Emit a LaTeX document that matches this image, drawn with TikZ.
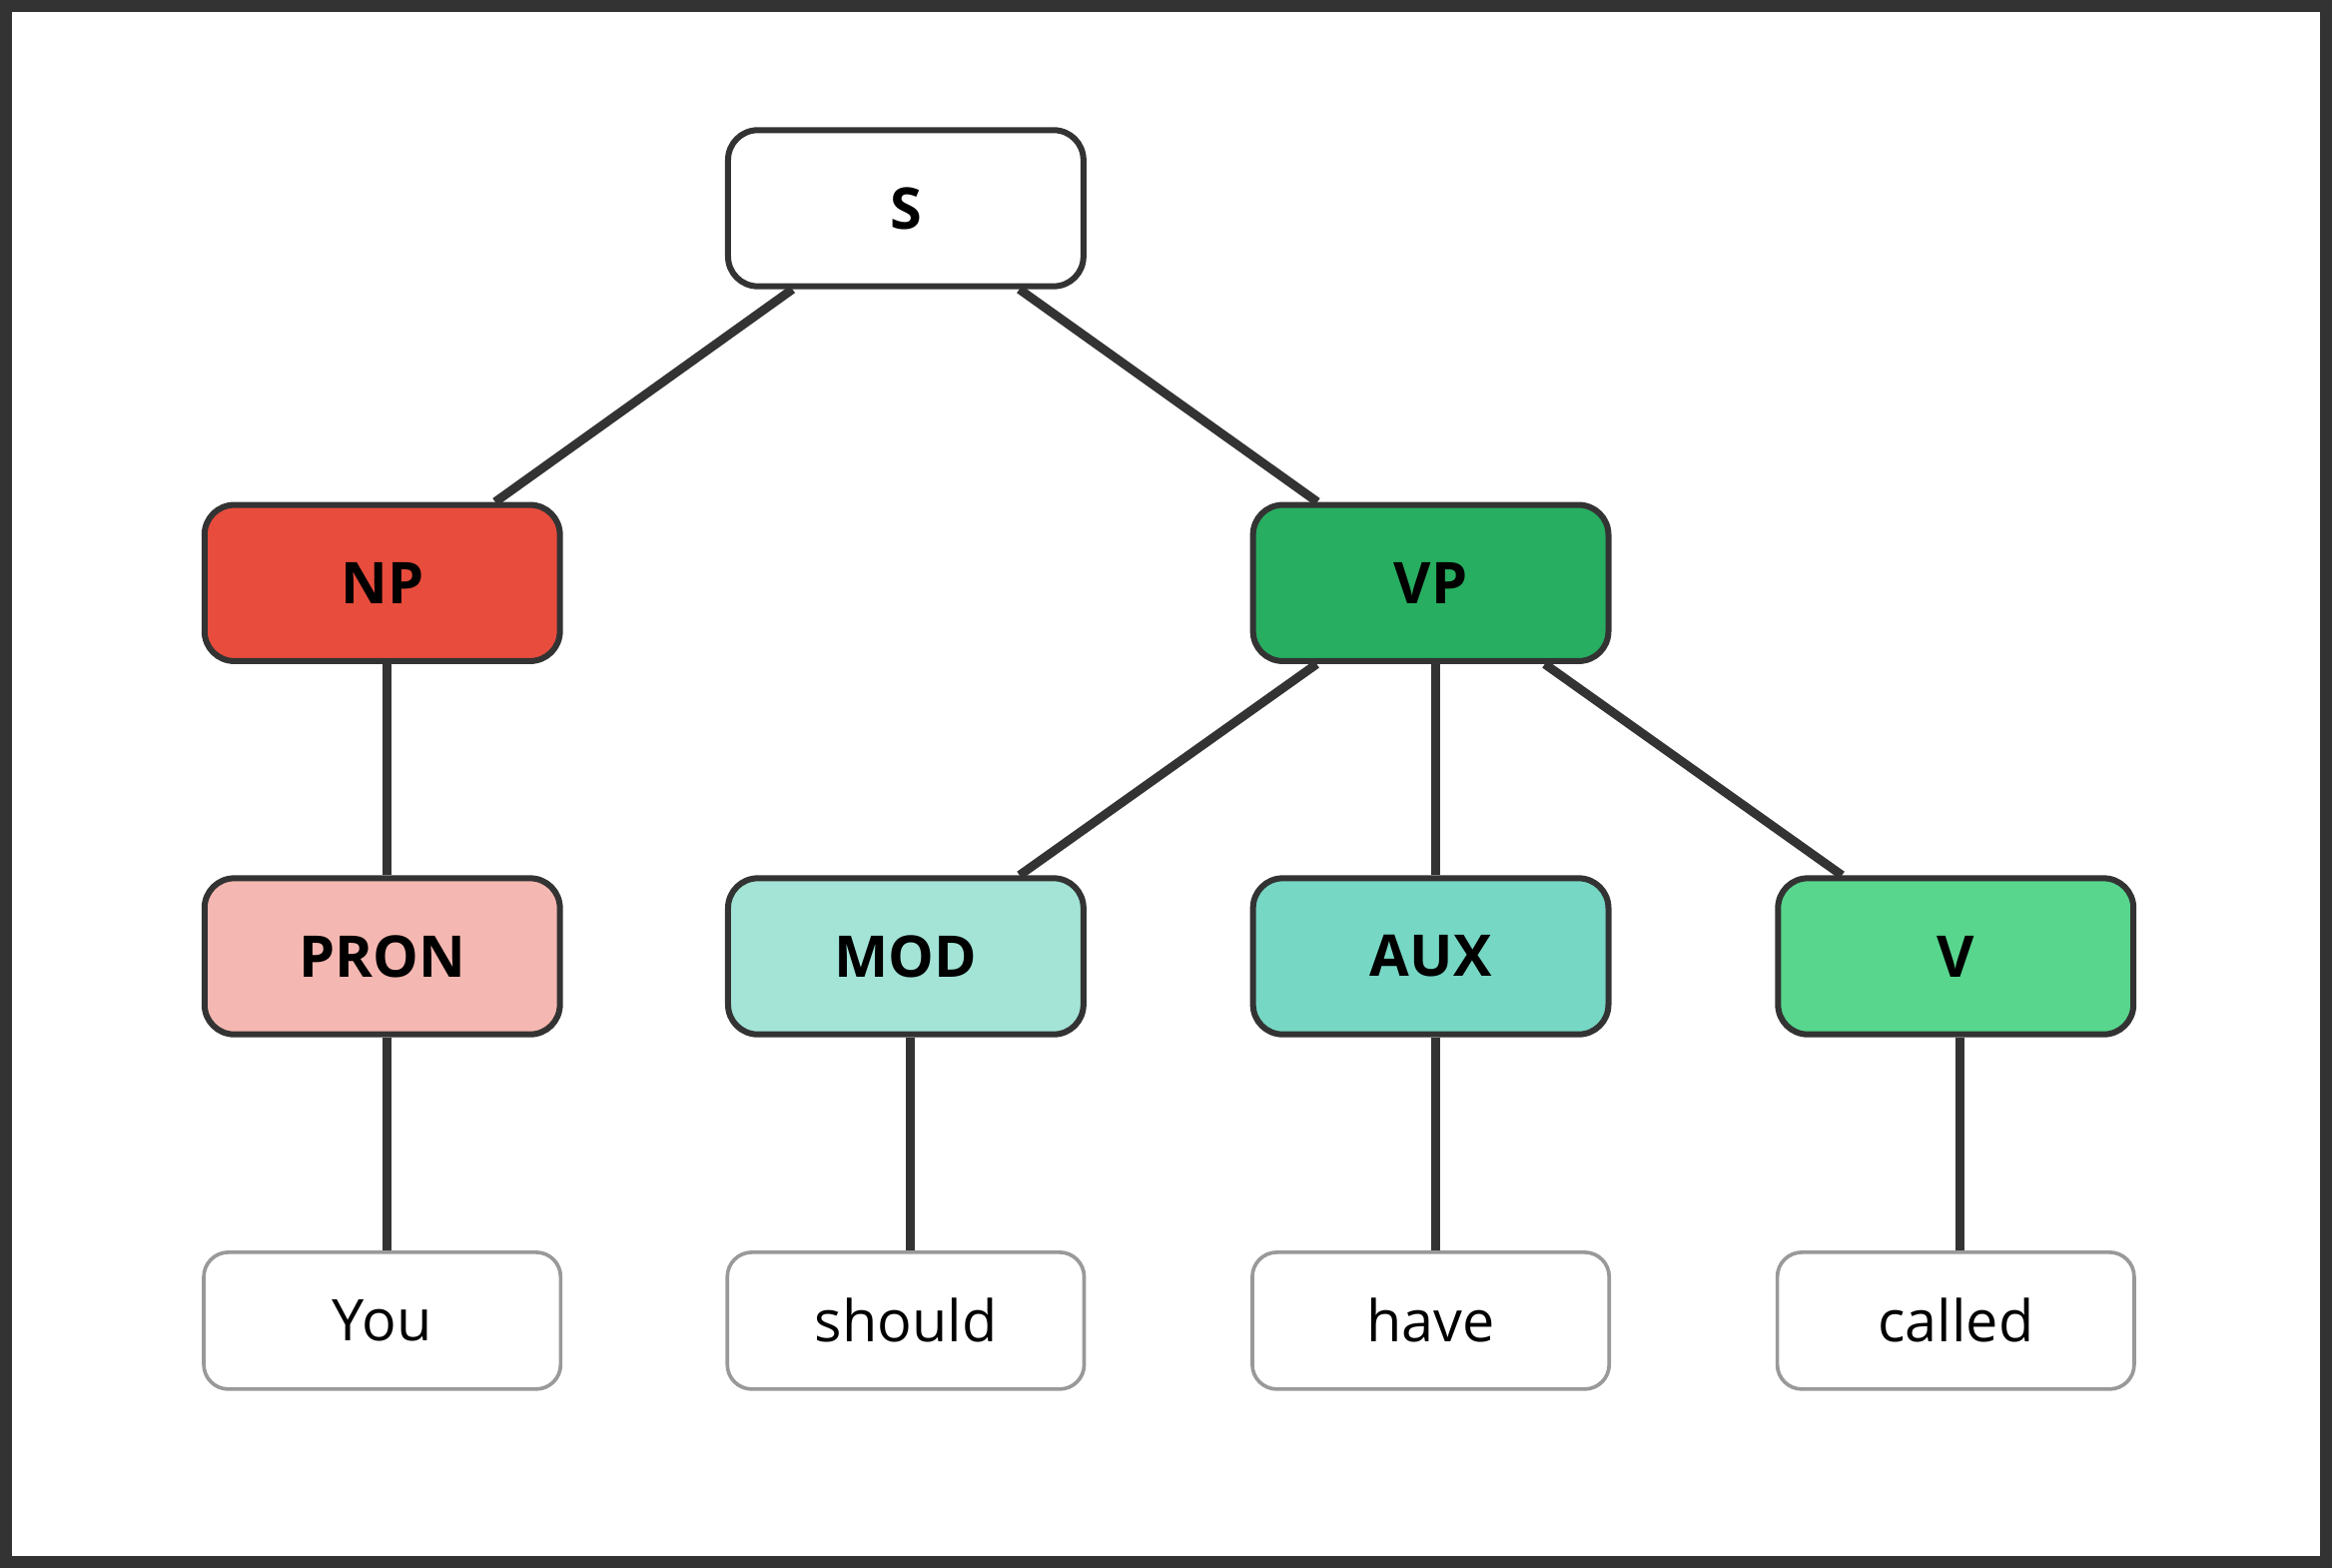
\documentclass[tikz,border=0pt]{standalone}
\usepackage{fontspec}
\setmainfont{Open Sans}
\begin{document}
\begin{tikzpicture}[x=0.02cm,y=-0.02cm,
  cat/.style={draw=black!80,line width=2.3pt,rounded corners=0.4cm,minimum width=4.78cm,minimum height=2.1cm,inner sep=0pt,font=\fontsize{22}{26}\selectfont\bfseries},
  word/.style={draw=black!40,line width=1.4pt,rounded corners=0.33cm,minimum width=4.8cm,minimum height=1.84cm,inner sep=0pt,font=\fontsize{22}{26}\selectfont,fill=white},
  edge/.style={draw=black!80,line width=3.4pt}]
\useasboundingbox (0,0) rectangle (1568,1054);
\fill[white] (0,0) rectangle (1568,1054);
\draw[black!80,line width=4.5pt] (4,4) rectangle (1564,1050);
\node[cat,fill=white] (S) at (609,140) {S};
\node[cat,fill={rgb,255:red,231;green,76;blue,60}] (NP) at (257,392) {NP};
\node[cat,fill={rgb,255:red,39;green,174;blue,96}] (VP) at (962,392) {VP};
\node[cat,fill={rgb,255:red,245;green,183;blue,177}] (PRON) at (257,643) {PRON};
\node[cat,fill={rgb,255:red,163;green,228;blue,215}] (MOD) at (609,643) {MOD};
\node[cat,fill={rgb,255:red,118;green,215;blue,196}] (AUX) at (962,643) {AUX};
\node[cat,fill={rgb,255:red,88;green,214;blue,141}] (V) at (1315,643) {V};
\node[word] (w1) at (257,888) {You};
\node[word] (w2) at (609,888) {should};
\node[word] (w3) at (962,888) {have};
\node[word] (w4) at (1315,888) {called};
\begin{scope}[on background layer/.try]
\end{scope}
\draw[edge] (S) -- (NP);
\draw[edge] (S) -- (VP);
\draw[edge] (NP.south -| 260,0) -- (PRON.north -| 260,0);
\draw[edge] (VP) -- (MOD);
\draw[edge] (VP.south -| 965,0) -- (AUX.north -| 965,0);
\draw[edge] (VP) -- (V);
\draw[edge] (PRON.south -| 260,0) -- (w1.north -| 260,0);
\draw[edge] (MOD.south -| 612,0) -- (w2.north -| 612,0);
\draw[edge] (AUX.south -| 965,0) -- (w3.north -| 965,0);
\draw[edge] (V.south -| 1318,0) -- (w4.north -| 1318,0);
\end{tikzpicture}
\end{document}
